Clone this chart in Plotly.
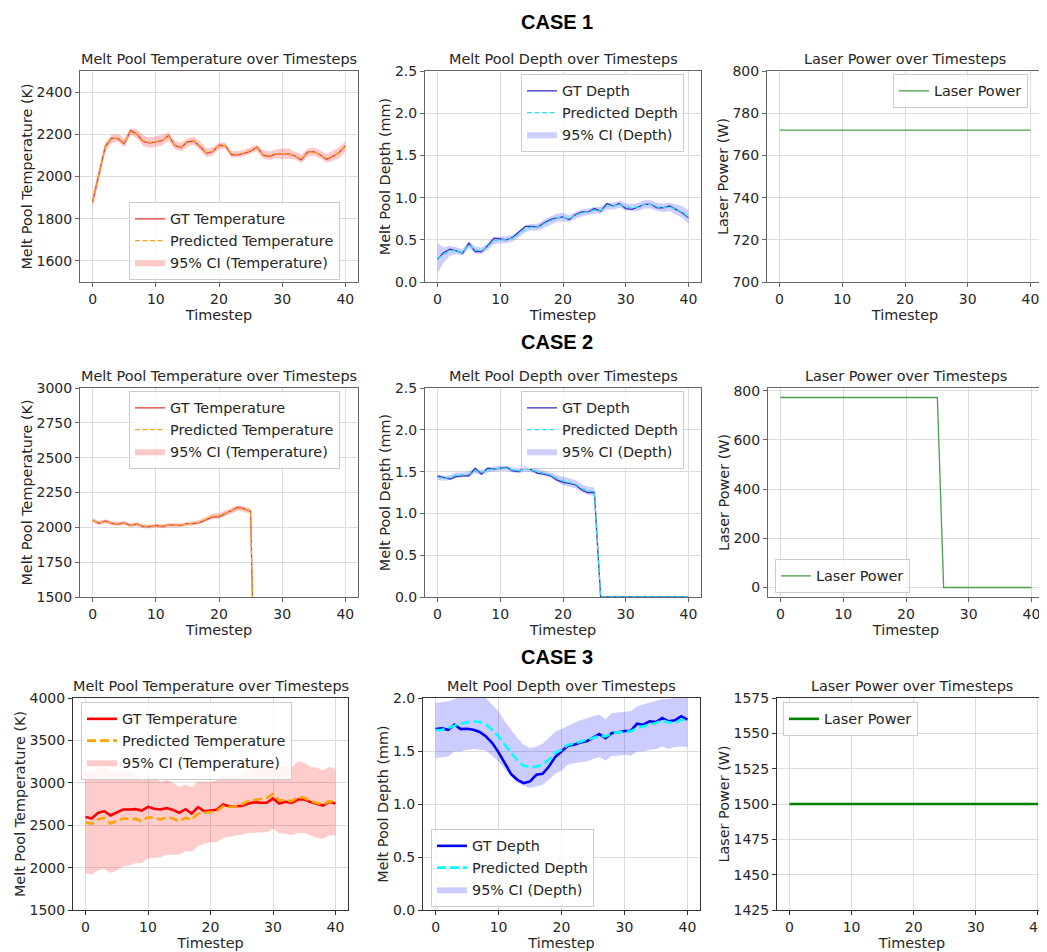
import plotly.graph_objects as go
from plotly.subplots import make_subplots

# ---------------- DATA ----------------
timesteps = list(range(41))

# CASE 1
c1_temp_gt = [1880, 2016, 2142, 2182, 2180, 2155, 2218, 2200, 2166, 2158, 2164, 2170, 2195, 2147, 2137,
              2164, 2168, 2142, 2110, 2118, 2148, 2145, 2103, 2103, 2110, 2120, 2139, 2101, 2095, 2106,
              2107, 2107, 2098, 2079, 2115, 2118, 2103, 2082, 2095, 2114, 2145]
c1_temp_pred = [1885, 2010, 2138, 2178, 2183, 2160, 2212, 2203, 2170, 2160, 2165, 2172, 2190, 2150, 2140,
                2160, 2170, 2145, 2113, 2120, 2145, 2146, 2106, 2105, 2112, 2122, 2135, 2104, 2098, 2108,
                2108, 2109, 2100, 2083, 2112, 2118, 2105, 2085, 2098, 2112, 2142]
c1_temp_ci = [35, 25, 22, 20, 18, 20, 15, 20, 25, 25, 25, 25, 20, 20, 20, 20, 20, 20, 20, 20, 15,
              15, 15, 15, 15, 15, 15, 20, 20, 20, 25, 25, 20, 20, 20, 20, 20, 20, 25, 25, 25]
c1_depth_gt = [0.27, 0.35, 0.39, 0.37, 0.34, 0.46, 0.36, 0.36, 0.43, 0.52, 0.51, 0.50, 0.53, 0.59, 0.66,
               0.66, 0.65, 0.70, 0.74, 0.76, 0.77, 0.74, 0.80, 0.83, 0.83, 0.87, 0.84, 0.93, 0.90, 0.93,
               0.87, 0.86, 0.89, 0.92, 0.92, 0.88, 0.88, 0.90, 0.86, 0.82, 0.76]
c1_depth_pred = [0.28, 0.32, 0.37, 0.37, 0.35, 0.44, 0.38, 0.37, 0.42, 0.49, 0.50, 0.50, 0.52, 0.57, 0.63,
                 0.65, 0.65, 0.69, 0.73, 0.76, 0.77, 0.75, 0.79, 0.82, 0.83, 0.85, 0.85, 0.90, 0.90, 0.92,
                 0.89, 0.88, 0.89, 0.92, 0.92, 0.89, 0.88, 0.89, 0.86, 0.83, 0.77]
c1_depth_ci = [0.18, 0.09, 0.06, 0.04, 0.04, 0.04, 0.04, 0.04, 0.04, 0.04, 0.04, 0.04, 0.04, 0.04, 0.04,
               0.04, 0.04, 0.05, 0.05, 0.05, 0.05, 0.04, 0.04, 0.04, 0.04, 0.04, 0.04, 0.04, 0.04, 0.04,
               0.04, 0.04, 0.05, 0.05, 0.05, 0.05, 0.05, 0.05, 0.06, 0.07, 0.08]
c1_laser = [772] * 41

# CASE 2
c2_temp_gt = [2053, 2029, 2046, 2029, 2022, 2034, 2012, 2024, 2005, 2005, 2014, 2005, 2017, 2014, 2014,
              2026, 2026, 2036, 2055, 2075, 2075, 2099, 2123, 2144, 2132, 2115,
              0, 0, 0, 0, 0, 0, 0, 0, 0, 0, 0, 0, 0, 0, 0]
c2_temp_pred = [2050, 2032, 2043, 2030, 2024, 2031, 2015, 2022, 2008, 2006, 2012, 2008, 2015, 2016, 2015,
                2024, 2028, 2040, 2060, 2080, 2082, 2102, 2120, 2138, 2130, 2118,
                0, 0, 0, 0, 0, 0, 0, 0, 0, 0, 0, 0, 0, 0, 0]
c2_temp_ci = [15, 15, 15, 15, 15, 15, 15, 15, 15, 15, 15, 15, 15, 15, 15, 15, 15, 15, 20, 20, 20,
              20, 20, 20, 20, 20, 0, 0, 0, 0, 0, 0, 0, 0, 0, 0, 0, 0, 0, 0, 0]
c2_depth_gt = [1.45, 1.43, 1.41, 1.44, 1.45, 1.45, 1.54, 1.47, 1.54, 1.53, 1.54, 1.55, 1.51, 1.50, 1.56,
               1.52, 1.48, 1.47, 1.45, 1.40, 1.37, 1.36, 1.34, 1.28, 1.25, 1.25,
               0, 0, 0, 0, 0, 0, 0, 0, 0, 0, 0, 0, 0, 0, 0]
c2_depth_pred = [1.43, 1.42, 1.43, 1.46, 1.46, 1.47, 1.51, 1.49, 1.52, 1.53, 1.54, 1.54, 1.52, 1.51, 1.53,
                 1.52, 1.50, 1.48, 1.46, 1.42, 1.39, 1.37, 1.35, 1.30, 1.27, 1.26,
                 0, 0, 0, 0, 0, 0, 0, 0, 0, 0, 0, 0, 0, 0, 0]
c2_depth_ci = [0.03, 0.03, 0.03, 0.03, 0.03, 0.03, 0.03, 0.03, 0.03, 0.03, 0.03, 0.03, 0.03, 0.03, 0.03,
               0.03, 0.03, 0.03, 0.03, 0.04, 0.05, 0.05, 0.05, 0.05, 0.05, 0.05,
               0, 0, 0, 0, 0, 0, 0, 0, 0, 0, 0, 0, 0, 0, 0]
c2_laser = [772] * 26 + [0] * 15

# CASE 3
c3_temp_gt = [2598, 2579, 2646, 2665, 2614, 2646, 2685, 2685, 2689, 2673, 2717, 2693, 2685, 2701, 2681,
              2646, 2689, 2638, 2713, 2665, 2673, 2681, 2744, 2724, 2724, 2728, 2752, 2772, 2764, 2764,
              2815, 2756, 2776, 2764, 2803, 2803, 2772, 2752, 2732, 2776, 2756]
c3_temp_pred = [2535, 2516, 2567, 2587, 2520, 2547, 2579, 2575, 2575, 2547, 2594, 2587, 2567, 2594, 2579,
                2547, 2587, 2567, 2634, 2646, 2654, 2665, 2724, 2717, 2724, 2744, 2783, 2795, 2803, 2823,
                2870, 2795, 2795, 2783, 2831, 2823, 2783, 2764, 2744, 2783, 2772]
c3_temp_lo = [1937, 1917, 1969, 1984, 1937, 1965, 2016, 2024, 2055, 2055, 2106, 2114, 2122, 2153, 2153,
              2153, 2193, 2193, 2252, 2283, 2299, 2299, 2350, 2362, 2370, 2390, 2409, 2409, 2417, 2417,
              2457, 2402, 2398, 2382, 2409, 2409, 2378, 2350, 2339, 2378, 2382]
c3_temp_hi = [3133, 3115, 3165, 3190, 3103, 3129, 3142, 3126, 3095, 3039, 3082, 3060, 3012, 3035, 3005,
              2950, 2981, 2950, 3016, 3009, 3009, 3031, 3098, 3072, 3078, 3098, 3157, 3181, 3189, 3229,
              3283, 3188, 3192, 3184, 3253, 3237, 3188, 3178, 3149, 3188, 3162]
c3_depth_gt = [1.707, 1.713, 1.700, 1.748, 1.707, 1.710, 1.700, 1.679, 1.638, 1.575, 1.487, 1.386, 1.282,
               1.228, 1.197, 1.213, 1.276, 1.285, 1.354, 1.443, 1.496, 1.550, 1.559, 1.581, 1.591, 1.622,
               1.660, 1.622, 1.669, 1.676, 1.688, 1.691, 1.757, 1.748, 1.780, 1.773, 1.811, 1.780, 1.789,
               1.827, 1.795]
c3_depth_pred = [1.695, 1.700, 1.717, 1.739, 1.757, 1.770, 1.780, 1.773, 1.748, 1.700, 1.638, 1.559, 1.480,
                 1.411, 1.361, 1.348, 1.354, 1.370, 1.417, 1.480, 1.512, 1.559, 1.569, 1.591, 1.606, 1.622,
                 1.644, 1.638, 1.669, 1.676, 1.682, 1.685, 1.717, 1.732, 1.748, 1.764, 1.789, 1.770, 1.764,
                 1.795, 1.789]
c3_depth_lo = [1.433, 1.443, 1.449, 1.496, 1.496, 1.512, 1.518, 1.512, 1.502, 1.455, 1.402, 1.329, 1.260,
               1.203, 1.172, 1.150, 1.165, 1.181, 1.228, 1.285, 1.317, 1.370, 1.386, 1.392, 1.402, 1.424,
               1.443, 1.411, 1.455, 1.455, 1.465, 1.455, 1.496, 1.496, 1.512, 1.518, 1.543, 1.518, 1.537,
               1.543, 1.537]
c3_depth_hi = [1.953, 1.962, 1.969, 1.990, 2.016, 2.030, 2.040, 2.030, 2.000, 1.937, 1.874, 1.780, 1.700,
               1.622, 1.559, 1.528, 1.543, 1.569, 1.622, 1.685, 1.707, 1.739, 1.764, 1.789, 1.811, 1.827,
               1.843, 1.800, 1.858, 1.865, 1.868, 1.874, 1.921, 1.937, 1.959, 1.969, 1.990, 1.990, 2.000,
               2.010, 2.010]
c3_laser = [1500] * 41

case_titles = ["CASE 1", "CASE 2", "CASE 3"]
panel_titles = ["Melt Pool Temperature over Timesteps", "Melt Pool Depth over Timesteps",
                "Laser Power over Timesteps"]
y_titles = ["Melt Pool Temperature (K)", "Melt Pool Depth (mm)", "Laser Power (W)"]
x_title = "Timestep"
x_ticks = [0, 10, 20, 30, 40]

# ---------------- LAYOUT HELPERS ----------------
# page is shown with an 8px body margin, so the figure is sized to the window minus it
OFF = 8
WIN_W, WIN_H = 1047, 952
W, H = WIN_W - OFF, WIN_H - OFF
FONT = "DejaVu Sans"


def fx(p):
    return (p - OFF) / W


def fy(p):
    return 1 - (p - OFF) / H


fig = make_subplots(rows=3, cols=3)

x_dom = [[(80, 358), (425, 701), (767, 1043)],
         [(80, 358), (425, 701), (768, 1044)],
         [(73, 348), (423, 700), (777, 1047)]]
y_dom = [(71, 282), (388, 597), (698, 910)]

y_ranges = [[(1500, 2500), (0, 2.5), (700, 800)],
            [(1500, 3000), (0, 2.5), (-38.6, 810.6)],
            [(1500, 4000), (0, 2.0), (1425, 1575)]]
y_tick0 = [[1600, 0, 700], [1500, 0, 0], [1500, 0, 1425]]
y_dticks = [[200, 0.5, 20], [250, 0.5, 200], [500, 0.5, 25]]
y_fmt = [["d", ".1f", "d"], ["d", ".1f", "d"], ["d", ".1f", "d"]]

thin = 1.3
thick = 2.6
styles = {
    0: dict(tgt="#e23b3b", tpred="#f5a623", tci="rgba(255,60,60,0.28)",
            dgt="#3535c8", dpred="#2fe0f0", dci="rgba(60,60,255,0.25)", laser="#4c9f4c", lw=thin,
            dash="5px,2.5px"),
    1: dict(tgt="#e23b3b", tpred="#f5a623", tci="rgba(255,60,60,0.28)",
            dgt="#3535c8", dpred="#2fe0f0", dci="rgba(60,60,255,0.25)", laser="#4c9f4c", lw=thin,
            dash="5px,2.5px"),
    2: dict(tgt="#ff0000", tpred="#ffa500", tci="rgba(255,0,0,0.2)",
            dgt="#0000ff", dpred="#00ffff", dci="rgba(0,0,255,0.2)", laser="#008000", lw=thick,
            dash="9px,4px"),
}

cases = [
    dict(tgt=c1_temp_gt, tpred=c1_temp_pred,
         tlo=[p - c for p, c in zip(c1_temp_pred, c1_temp_ci)],
         thi=[p + c for p, c in zip(c1_temp_pred, c1_temp_ci)],
         dgt=c1_depth_gt, dpred=c1_depth_pred,
         dlo=[p - c for p, c in zip(c1_depth_pred, c1_depth_ci)],
         dhi=[p + c for p, c in zip(c1_depth_pred, c1_depth_ci)],
         laser=c1_laser),
    dict(tgt=c2_temp_gt, tpred=c2_temp_pred,
         tlo=[p - c for p, c in zip(c2_temp_pred, c2_temp_ci)],
         thi=[p + c for p, c in zip(c2_temp_pred, c2_temp_ci)],
         dgt=c2_depth_gt, dpred=c2_depth_pred,
         dlo=[p - c for p, c in zip(c2_depth_pred, c2_depth_ci)],
         dhi=[p + c for p, c in zip(c2_depth_pred, c2_depth_ci)],
         laser=c2_laser),
    dict(tgt=c3_temp_gt, tpred=c3_temp_pred, tlo=c3_temp_lo, thi=c3_temp_hi,
         dgt=c3_depth_gt, dpred=c3_depth_pred, dlo=c3_depth_lo, dhi=c3_depth_hi,
         laser=c3_laser),
]

# legend boxes: (left px, top px)
legend_pos = [[(129, 202), (521, 74), (893, 74)],
              [(129, 391), (521, 391), (775, 559)],
              [(81, 702), (431, 829), (783, 702)]]

for r, case in enumerate(cases):
    st = styles[r]
    row = r + 1
    # temperature panel
    idx = r * 3 + 1
    lg = "legend" if idx == 1 else f"legend{idx}"
    fig.add_trace(go.Scatter(x=timesteps, y=case["tlo"], mode="lines", line=dict(width=0),
                             showlegend=False, hoverinfo="skip", legend=lg), row=row, col=1)
    fig.add_trace(go.Scatter(x=timesteps, y=case["thi"], mode="lines", line=dict(width=0),
                             fill="tonexty", fillcolor=st["tci"], name="95% CI (Temperature)",
                             legendrank=3, legend=lg), row=row, col=1)
    fig.add_trace(go.Scatter(x=timesteps, y=case["tgt"], mode="lines",
                             line=dict(color=st["tgt"], width=st["lw"]), name="GT Temperature",
                             legendrank=1, legend=lg), row=row, col=1)
    fig.add_trace(go.Scatter(x=timesteps, y=case["tpred"], mode="lines",
                             line=dict(color=st["tpred"], width=st["lw"], dash=st["dash"]),
                             name="Predicted Temperature", legendrank=2, legend=lg), row=row, col=1)
    # depth panel
    idx = r * 3 + 2
    lg = f"legend{idx}"
    fig.add_trace(go.Scatter(x=timesteps, y=case["dlo"], mode="lines", line=dict(width=0),
                             showlegend=False, hoverinfo="skip", legend=lg), row=row, col=2)
    fig.add_trace(go.Scatter(x=timesteps, y=case["dhi"], mode="lines", line=dict(width=0),
                             fill="tonexty", fillcolor=st["dci"], name="95% CI (Depth)",
                             legendrank=3, legend=lg), row=row, col=2)
    fig.add_trace(go.Scatter(x=timesteps, y=case["dgt"], mode="lines",
                             line=dict(color=st["dgt"], width=st["lw"]), name="GT Depth",
                             legendrank=1, legend=lg), row=row, col=2)
    fig.add_trace(go.Scatter(x=timesteps, y=case["dpred"], mode="lines",
                             line=dict(color=st["dpred"], width=st["lw"], dash=st["dash"]),
                             name="Predicted Depth", legendrank=2, legend=lg), row=row, col=2)
    # laser panel
    idx = r * 3 + 3
    lg = f"legend{idx}"
    fig.add_trace(go.Scatter(x=timesteps, y=case["laser"], mode="lines",
                             line=dict(color=st["laser"], width=st["lw"]), name="Laser Power",
                             legend=lg), row=row, col=3)

layout_updates = {}
annotations = []
for r in range(3):
    spine = "#666666" if r < 2 else "#333333"
    for c in range(3):
        idx = r * 3 + c + 1
        xa = "xaxis" if idx == 1 else f"xaxis{idx}"
        ya = "yaxis" if idx == 1 else f"yaxis{idx}"
        x0, x1 = x_dom[r][c]
        ytop, ybot = y_dom[r]
        xr = [-2, 42]
        if r == 2 and c == 2:
            xr = [-2, 41.45]
        layout_updates[xa] = dict(
            domain=[max(0, fx(x0)), min(1, fx(x1))], range=xr, tickmode="array", tickvals=x_ticks,
            automargin=False,
            showgrid=True, gridcolor="#dcdcdc", gridwidth=1, zeroline=False,
            showline=True, linecolor=spine, linewidth=1, mirror=True,
            ticks="outside", ticklen=4, tickcolor=spine,
            tickfont=dict(family=FONT, size=14, color="#262626"),
            title=dict(text=x_title, font=dict(family=FONT, size=14.4, color="#262626"), standoff=0),
        )
        yr = y_ranges[r][c]
        layout_updates[ya] = dict(
            domain=[fy(ybot), fy(ytop)], range=list(yr), tick0=y_tick0[r][c], automargin=False,
            dtick=y_dticks[r][c], tickformat=y_fmt[r][c],
            showgrid=True, gridcolor="#dcdcdc", gridwidth=1, zeroline=False,
            showline=True, linecolor=spine, linewidth=1, mirror=not (r == 2 and c == 2),
            ticks="outside", ticklen=4, tickcolor=spine,
            tickfont=dict(family=FONT, size=14, color="#262626"),
            title=dict(text=y_titles[c], font=dict(family=FONT, size=14.4, color="#262626"), standoff=0),
        )
        # subplot title
        annotations.append(dict(
            text=panel_titles[c], x=fx((x0 + x1) / 2), y=fy(ytop - 2), xref="paper", yref="paper",
            xanchor="center", yanchor="bottom", showarrow=False,
            font=dict(family=FONT, size=14.4, color="#262626")))
        # legend
        lx, ly = legend_pos[r][c]
        lg = "legend" if idx == 1 else f"legend{idx}"
        layout_updates[lg] = dict(
            x=fx(lx), y=fy(ly), xanchor="left", yanchor="top", xref="paper", yref="paper",
            bgcolor="rgba(255,255,255,0.8)", bordercolor="#cccccc", borderwidth=1,
            font=dict(family=FONT, size=14.4, color="#262626"), itemwidth=30,
            traceorder="normal",
        )

case_y = [9, 329, 644]
for r in range(3):
    annotations.append(dict(
        text=f"<b>{case_titles[r]}</b>", x=fx(557), y=fy(case_y[r]), xref="paper", yref="paper",
        xanchor="center", yanchor="top", showarrow=False,
        font=dict(family="Liberation Sans", size=20, color="#000000")))

fig.update_layout(**layout_updates)
fig.update_layout(
    width=W, height=H, margin=dict(l=0, r=0, t=0, b=0, autoexpand=False),
    paper_bgcolor="white", plot_bgcolor="white",
    annotations=annotations, showlegend=True,
)

fig.write_html("out.html")
